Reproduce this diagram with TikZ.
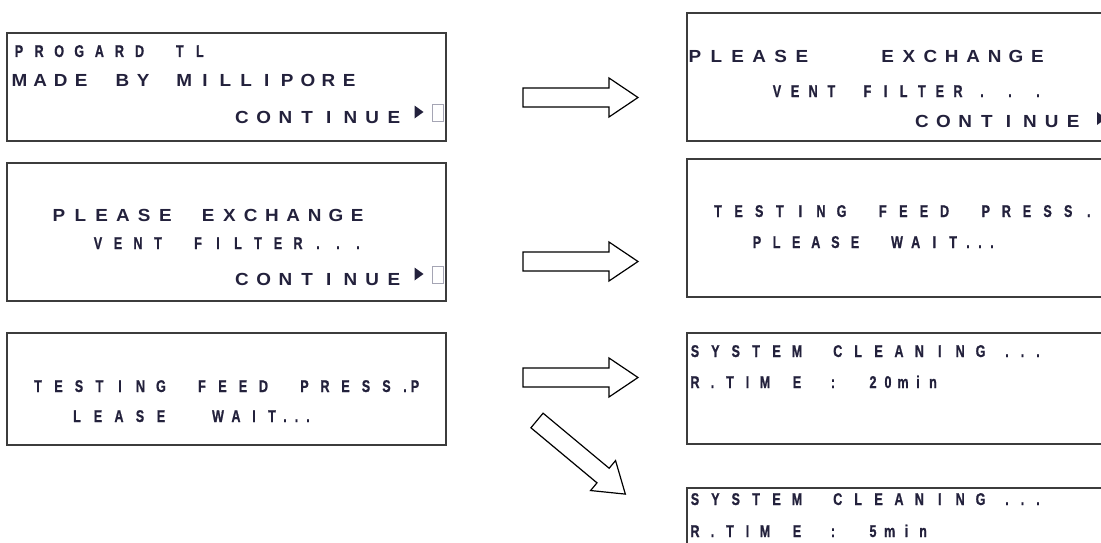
\documentclass[tikz,border=0pt]{standalone}
\usepackage{fontspec}
\setmainfont{Liberation Sans}
\newfontfamily\narrowfont{Liberation Sans Bold}[FakeStretch=0.74, FakeBold=0.8]
\newfontfamily\widefont{Liberation Sans Bold}[FakeStretch=1.08]
\definecolor{txt}{RGB}{35,33,60}
\definecolor{boxcol}{RGB}{60,60,60}
\definecolor{cursor}{RGB}{165,165,180}
\def\lcdstop{LCDSTOP}
\newcommand\lcdcells[2]{\def\lcdpitch{#1}\lcdloop#2\lcdstop}
\def\lcdloop#1{\ifx#1\lcdstop\else\makebox[\lcdpitch pt][c]{\if#1_\else#1\fi}\expandafter\lcdloop\fi}
\newcommand\lcdline[6]{\node[#1, anchor=base west] (#2) at ({#3-#5/2},#4) {\lcdcells{#5}{#6}};}
\tikzset{
  lcdbox/.style={draw=boxcol, line width=1.1pt, inner sep=0pt, outer sep=0pt, anchor=north west},
  nt/.style={inner sep=0pt, outer sep=0pt, text=txt, font=\narrowfont\fontsize{17}{18}\selectfont},
  wt/.style={inner sep=0pt, outer sep=0pt, text=txt, font=\widefont\fontsize{17.5}{20}\selectfont},
  blockarrow/.style={draw=black, line width=1.2pt, fill=white, line join=miter},
  tri/.style={fill=txt, draw=none},
  cur/.style={draw=cursor, line width=0.8pt, fill=white}
}
\def\arrowpath{(0,-9.5) -- (86,-9.5) -- (86,-19.5) -- (115,0) -- (86,19.5) -- (86,9.5) -- (0,9.5) -- cycle}
\begin{document}
\begin{tikzpicture}[x=1pt,y=-1pt]
\useasboundingbox (0,0) rectangle (1101,543);
\clip (0,0) rectangle (1101,543);
% boxes
\node[lcdbox, minimum width=439pt, minimum height=108pt] (L1) at (7,33) {};
\node[lcdbox, minimum width=439pt, minimum height=138pt] (L2) at (7,163) {};
\node[lcdbox, minimum width=439pt, minimum height=112pt] (L3) at (7,333) {};
\node[lcdbox, minimum width=440pt, minimum height=128pt] (R1) at (687,13) {};
\node[lcdbox, minimum width=440pt, minimum height=138pt] (R2) at (687,159) {};
\node[lcdbox, minimum width=440pt, minimum height=111pt] (R3) at (687,333) {};
\node[lcdbox, minimum width=440pt, minimum height=100pt] (R4) at (687,488) {};
% L1
\lcdline{nt}{l1a}{19}{57}{20.1}{PROGARD_TL}
\lcdline{wt}{l1b}{19.5}{86}{20.6}{MADE_BY_MILLIPORE}
\lcdline{wt}{l1c}{242}{123}{21.7}{CONTINUE}
\path[tri] (414.5,105.5) -- (423.5,112) -- (414.5,118.5) -- cycle;
\path[cur] (432.5,104) rectangle (443,121);
% L2
\lcdline{wt}{l2a}{59}{221}{21.3}{PLEASE_EXCHANGE}
\lcdline{nt}{l2b}{98}{249}{20}{VENT_FILTER...}
\lcdline{wt}{l2c}{242}{285}{21.7}{CONTINUE}
\path[tri] (414.5,267.5) -- (423.5,274) -- (414.5,280.5) -- cycle;
\path[cur] (432.5,266) rectangle (443,283);
% L3
\lcdline{nt}{l3a}{38}{392}{20.5}{TESTING_FEED_PRESS}
\lcdline{nt}{l3b}{405}{392}{10}{.P}
\lcdline{nt}{l3c}{77}{422}{21}{LEASE}
\lcdline{nt}{l3d}{218}{422}{18}{WAIT}
\lcdline{nt}{l3e}{285}{422}{11.5}{...}
% R1
\lcdline{wt}{r1a}{695}{63}{21.4}{PLEASE___EXCHANGE}
\lcdline{nt}{r1b}{777}{97}{18.1}{VENT_FILTER}
\lcdline{nt}{r1c}{982}{97}{28}{...}
\lcdline{wt}{r1d}{922}{128}{21.6}{CONTINUE}
\path[tri] (1097,112) -- (1106,118.5) -- (1097,125) -- cycle;
% R2
\lcdline{nt}{r2a}{718}{217}{20.6}{TESTING_FEED_PRESS.}
\lcdline{nt}{r2b}{757}{248}{19.6}{PLEASE}
\lcdline{nt}{r2c}{897}{248}{18.7}{WAIT}
\lcdline{nt}{r2d}{968}{248}{12}{...}
% R3
\lcdline{nt}{r3a}{695}{357}{20.4}{SYSTEM_CLEANING}
\lcdline{nt}{r3b}{1007}{357}{15.5}{...}
\lcdline{nt}{r3c}{695}{388}{17.5}{R.TIM}
\lcdline{nt}{r3d}{797}{388}{10}{E}
\lcdline{nt}{r3e}{833}{388}{10}{:}
\lcdline{nt}{r3f}{873}{388}{15}{20min}
% R4
\lcdline{nt}{r4a}{695}{505}{20.4}{SYSTEM_CLEANING}
\lcdline{nt}{r4b}{1007}{505}{15.5}{...}
\lcdline{nt}{r4c}{695}{537}{17.5}{R.TIM}
\lcdline{nt}{r4d}{797}{537}{10}{E}
\lcdline{nt}{r4e}{833}{537}{10}{:}
\lcdline{nt}{r4f}{873}{537}{16.7}{5min}
% arrows
\begin{scope}[shift={(523,97.5)}]\draw[blockarrow] \arrowpath;\end{scope}
\begin{scope}[shift={(523,261.5)}]\draw[blockarrow] \arrowpath;\end{scope}
\begin{scope}[shift={(523,377.5)}]\draw[blockarrow] \arrowpath;\end{scope}
\begin{scope}[shift={(537,420.5)}, rotate=-39.8]\draw[blockarrow] \arrowpath;\end{scope}
\end{tikzpicture}
\end{document}
